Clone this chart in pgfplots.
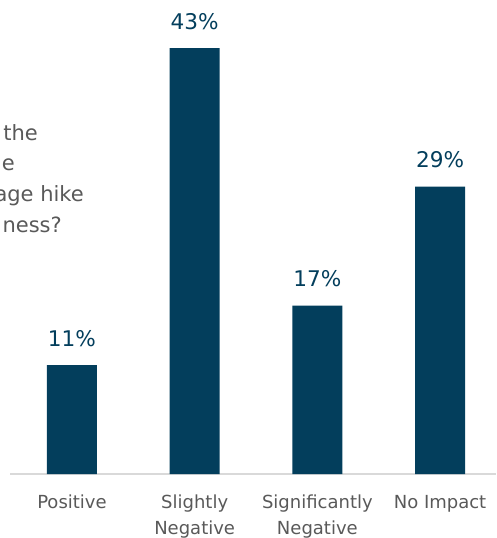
\documentclass[border=0pt]{standalone}
\usepackage{pgfplots}
\pgfplotsset{compat=1.18}
\usepackage{fontspec}
\setmainfont{DejaVu Sans}
\definecolor{barblue}{RGB}{3,62,92}
\definecolor{txtgray}{RGB}{89,89,89}
\definecolor{axgray}{RGB}{217,217,217}
\begin{document}
\begin{tikzpicture}[x=1pt,y=1pt]
\path[use as bounding box, clip] (0,0) rectangle (496,538);
\begin{axis}[
  at={(10pt,64pt)}, anchor=south west,
  scale only axis,
  width=486pt, height=445.8pt,
  xmin=-0.505, xmax=3.456,
  ymin=0, ymax=45,
  clip=false,
  /pgf/number format/assume math mode=true,
  ybar, bar width=50pt,
  axis x line*=bottom,
  axis y line=none,
  x axis line style={color=axgray, line width=1.5pt, -},
  xtick={0,1,2,3},
  xticklabels={Positive, Slightly\\Negative, Significantly\\Negative, No Impact},
  major tick length=0pt,
  xticklabel style={align=center, anchor=north, inner sep=0pt, yshift=-21pt,
    font=\fontsize{18}{26}\selectfont, text=txtgray},
  nodes near coords={\pgfmathprintnumber{\pgfplotspointmeta}\%},
  every node near coord/.append style={anchor=base, inner sep=0pt, yshift=19pt,
    font=\fontsize{21.6}{26}\selectfont, text=barblue},
]
\addplot[fill=barblue, draw=none] coordinates {(0,11) (1,43) (2,17) (3,29)};
\end{axis}
\begin{scope}[every node/.style={anchor=base east, inner sep=0pt, text=txtgray, font=\fontsize{21}{24}\selectfont}]
\node at (38,397) {the};
\node at (15,367) {e};
\node at (84,336) {age hike};
\node at (62,305) {ness?};
\end{scope}
\end{tikzpicture}
\end{document}
